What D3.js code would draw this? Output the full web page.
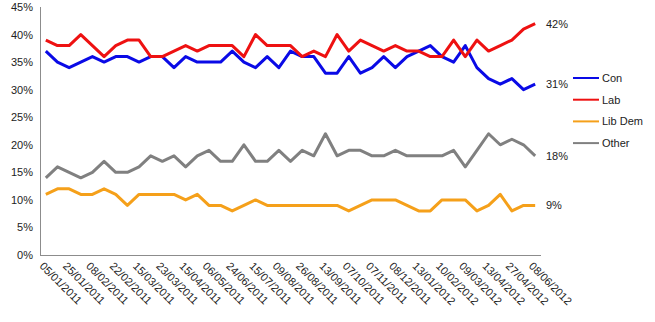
<!DOCTYPE html>
<html>
<head>
<meta charset="utf-8">
<script src="https://cdn.jsdelivr.net/npm/d3@7"></script>
<style>
  html, body { margin: 0; padding: 0; background: #fff; }
  svg { display: block; font-family: "Liberation Sans", Lato, sans-serif; }
  .date { font-family: "Liberation Sans Narrow", "Liberation Sans", sans-serif; }
</style>
</head>
<body>
<svg id="chart" width="655" height="322"></svg>
<script>
// Poll dates (every other one is labelled on the axis)
const dates = [
  "05/01/2011","","25/01/2011","","08/02/2011","","22/02/2011","","15/03/2011","",
  "23/03/2011","","15/04/2011","","06/05/2011","","24/06/2011","","15/07/2011","",
  "09/08/2011","","26/08/2011","","13/09/2011","","07/10/2011","","07/11/2011","",
  "08/12/2011","","13/01/2012","","10/02/2012","","09/03/2012","","13/04/2012","",
  "27/04/2012","","08/06/2012"
];

const con = [37,35,34,35,36,35,36,36,35,36,36,34,36,35,35,35,37,35,34,36,34,37,36,36,33,33,36,33,34,36,34,36,37,38,36,35,38,34,32,31,32,30,31];
const lab = [39,38,38,40,38,36,38,39,39,36,36,37,38,37,38,38,38,36,40,38,38,38,36,37,36,40,37,39,38,37,38,37,37,36,36,39,36,39,37,38,39,41,42];
const libDem = [11,12,12,11,11,12,11,9,11,11,11,11,10,11,9,9,8,9,10,9,9,9,9,9,9,9,8,9,10,10,10,9,8,8,10,10,10,8,9,11,8,9,9];
const other = [14,16,15,14,15,17,15,15,16,18,17,18,16,18,19,17,17,20,17,17,19,17,19,18,22,18,19,19,18,18,19,18,18,18,18,19,16,19,22,20,21,20,18];

const seriesNames = ["Con", "Lab", "Lib Dem", "Other"];
const seriesColors = ["#0a0ae6", "#ee1111", "#f5a01a", "#808080"];
const seriesValues = [con, lab, libDem, other];

const yTicks = [0, 5, 10, 15, 20, 25, 30, 35, 40, 45];

const svg = d3.select("#chart");
const plotLeft = 40, plotRight = 541, plotTop = 7, plotBottom = 255;

const idx = d3.range(dates.length);
const x = d3.scalePoint().domain(idx).range([plotLeft, plotRight]).padding(0.5);
const y = d3.scaleLinear().domain([0, 45]).range([plotBottom, plotTop]);

// Axis lines
svg.append("line").attr("x1", plotLeft + 0.5).attr("x2", plotLeft + 0.5)
  .attr("y1", plotTop).attr("y2", plotBottom).attr("stroke", "#8c8c8c").attr("stroke-width", 1);
svg.append("line").attr("x1", plotLeft).attr("x2", plotRight)
  .attr("y1", plotBottom + 0.5).attr("y2", plotBottom + 0.5).attr("stroke", "#8c8c8c").attr("stroke-width", 1);

// Y tick labels
svg.append("g").selectAll("text").data(yTicks).join("text")
  .attr("x", 33).attr("y", d => y(d))
  .attr("text-anchor", "end").attr("dominant-baseline", "central")
  .attr("font-size", 11).attr("fill", "#222")
  .text(d => d + "%");

// Rotated date labels
svg.append("g").selectAll("text").data(idx.filter(i => dates[i] !== "")).join("text")
  .attr("class", "date")
  .attr("transform", i => `translate(${x(i) - 4},${plotBottom + 9}) rotate(45)`)
  .attr("font-size", 11).attr("fill", "#222")
  .attr("dominant-baseline", "central")
  .text(i => dates[i]);

// Series lines
const line = d3.line().x((d, i) => x(i)).y(d => y(d));
seriesValues.forEach((vals, s) => {
  svg.append("path").datum(vals)
    .attr("d", line)
    .attr("fill", "none")
    .attr("stroke", seriesColors[s])
    .attr("stroke-width", 3)
    .attr("stroke-linejoin", "round");
});

// End-of-line value labels
seriesValues.forEach((vals, s) => {
  const last = vals[vals.length - 1];
  svg.append("text")
    .attr("x", 546).attr("y", y(last))
    .attr("dominant-baseline", "central")
    .attr("font-size", 11).attr("fill", "#222")
    .text(last + "%");
});

// Legend
const legend = svg.append("g").selectAll("g").data(seriesNames).join("g")
  .attr("transform", (d, i) => `translate(573,${78 + i * 21.7})`);
legend.append("line").attr("x1", 0).attr("x2", 26)
  .attr("stroke", (d, i) => seriesColors[i]).attr("stroke-width", 2);
legend.append("text").attr("x", 29).attr("dominant-baseline", "central")
  .attr("font-size", 11).attr("fill", "#222").text(d => d);
</script>
</body>
</html>
